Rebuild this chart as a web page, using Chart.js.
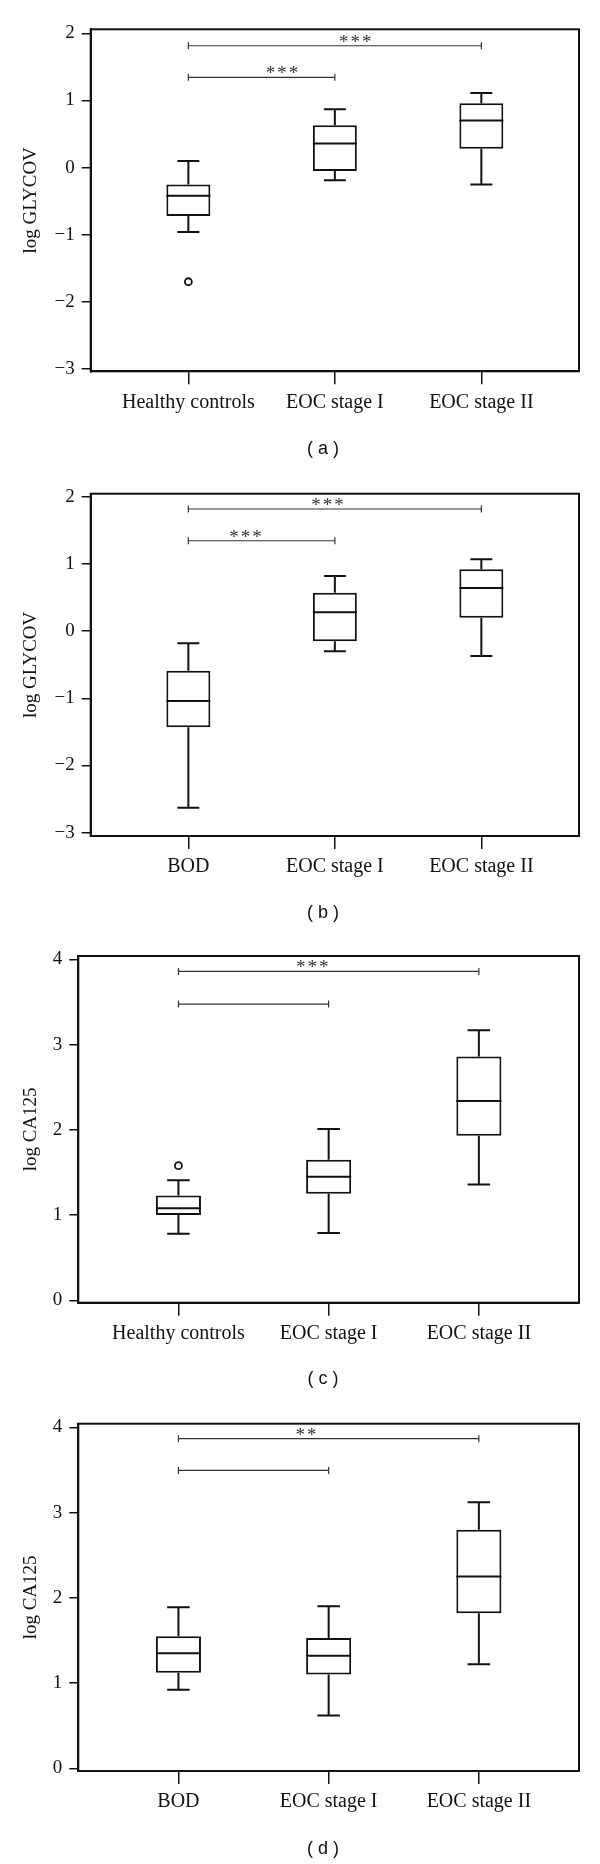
<!DOCTYPE html>
<html lang="en">
<head>
<meta charset="UTF-8">
<title>log GLYCOV / log CA125 box plots</title>
<script src="https://cdn.jsdelivr.net/npm/chart.js@4.4.0/dist/chart.umd.min.js"></script>
<style>
  body { margin: 0; background: #fff; width: 600px; height: 1864px; position: relative; overflow: hidden; }
  .panel { position: absolute; left: 0; width: 600px; }
  .caption { position: absolute; left: 0; width: 646px; text-align: center; line-height: 20px;
             font-family: 'Liberation Sans', Arial, sans-serif; font-size: 18px; color: #111; }
</style>
</head>
<body>

<div class="panel" style="top:0;height:464px"><canvas id="chartA"></canvas></div>
<div class="caption" style="top:438px">( a )</div>
<div class="panel" style="top:464px;height:463px"><canvas id="chartB"></canvas></div>
<div class="caption" style="top:902px">( b )</div>
<div class="panel" style="top:927px;height:468px"><canvas id="chartC"></canvas></div>
<div class="caption" style="top:1368px">( c )</div>
<div class="panel" style="top:1395px;height:469px"><canvas id="chartD"></canvas></div>
<div class="caption" style="top:1838px">( d )</div>

<script>
// groups
const groupsHealthy = ['Healthy controls', 'EOC stage I', 'EOC stage II'];
const groupsBOD = ['BOD', 'EOC stage I', 'EOC stage II'];

// (a) log GLYCOV, healthy controls vs EOC
const lowA = [-0.96, -0.19, -0.25];
const q1A = [-0.72, -0.05, 0.28];
const medA = [-0.42, 0.36, 0.70];
const q3A = [-0.25, 0.63, 0.96];
const highA = [0.10, 0.87, 1.11];
const outA = [[-1.70], [], []];

// (b) log GLYCOV, BOD vs EOC
const lowB = [-2.63, -0.30, -0.37];
const q1B = [-1.43, -0.15, 0.20];
const medB = [-1.04, 0.28, 0.64];
const q3B = [-0.59, 0.57, 0.92];
const highB = [-0.18, 0.82, 1.07];
const outB = [[], [], []];

// (c) log CA125, healthy controls vs EOC
const lowC = [0.78, 0.79, 1.36];
const q1C = [1.00, 1.25, 1.93];
const medC = [1.08, 1.45, 2.34];
const q3C = [1.23, 1.65, 2.86];
const highC = [1.41, 2.01, 3.17];
const outC = [[1.58], [], []];

// (d) log CA125, BOD vs EOC
const lowD = [0.92, 0.62, 1.22];
const q1D = [1.12, 1.10, 1.82];
const medD = [1.35, 1.32, 2.25];
const q3D = [1.55, 1.53, 2.80];
const highD = [1.89, 1.90, 3.12];
const outD = [[], [], []];

// significance brackets: from group, to group, height, stars and where the stars sit
const bracketsA = [{from: 1, to: 3, y: 1.815, stars: '***', starX: 2.14}, {from: 1, to: 2, y: 1.344, stars: '***', starX: 1.64}];
const bracketsB = [{from: 1, to: 3, y: 1.817, stars: '***', starX: 1.95}, {from: 1, to: 2, y: 1.345, stars: '***', starX: 1.39}];
const bracketsC = [{from: 1, to: 3, y: 3.859, stars: '***', starX: 1.89}, {from: 1, to: 2, y: 3.476, stars: '', starX: 1.5}];
const bracketsD = [{from: 1, to: 3, y: 3.867, stars: '**', starX: 1.85}, {from: 1, to: 2, y: 3.495, stars: '', starX: 1.5}];

const SERIF = "'Liberation Serif', 'Times New Roman', serif";
const INK = '#111';
const BOX_HALF = 0.15, CAP_HALF = 0.075;

// outer frame + stars over the brackets
const framePlugin = {
  id: 'frame',
  afterDatasetsDraw(chart, args, opts) {
    const {ctx, chartArea: a, scales} = chart;
    ctx.save();
    ctx.strokeStyle = INK;
    ctx.lineWidth = 2;
    ctx.strokeRect(a.left, a.top, a.right - a.left, a.bottom - a.top);
    ctx.fillStyle = '#333';
    ctx.font = '19px ' + SERIF;
    ctx.letterSpacing = '2px';
    ctx.textAlign = 'center';
    ctx.textBaseline = 'alphabetic';
    opts.brackets.forEach(b => {
      if (!b.stars) return;
      ctx.fillText(b.stars, scales.x.getPixelForValue(b.starX) + 1, scales.y.getPixelForValue(b.y) + 2);
    });
    ctx.restore();
  }
};

function makePanel(id, p) {
  const xs = p.groups.map((g, i) => i + 1);
  const gap = {x: null, y: null};
  const whiskers = [], caps = [], medians = [], outliers = [];
  xs.forEach((x, i) => {
    whiskers.push({x, y: p.q3[i]}, {x, y: p.high[i]}, gap, {x, y: p.q1[i]}, {x, y: p.low[i]}, gap);
    caps.push({x: x - CAP_HALF, y: p.high[i]}, {x: x + CAP_HALF, y: p.high[i]}, gap,
              {x: x - CAP_HALF, y: p.low[i]}, {x: x + CAP_HALF, y: p.low[i]}, gap);
    medians.push({x: x - BOX_HALF, y: p.med[i]}, {x: x + BOX_HALF, y: p.med[i]}, gap);
    p.out[i].forEach(v => outliers.push({x, y: v}));
  });
  const seg = (data, width, color) => ({
    type: 'line', data, borderColor: color, borderWidth: width, pointRadius: 0,
    spanGaps: false, order: 1, borderCapStyle: 'butt'
  });
  const bracketSets = p.brackets.map(b => ({
    type: 'line',
    data: [{x: b.from, y: b.y}, {x: b.to, y: b.y}],
    borderColor: '#333', borderWidth: 1.2,
    pointStyle: 'line', pointRotation: 90, pointRadius: 3.5,
    pointBorderColor: '#333', pointBorderWidth: 1.2, order: 1
  }));

  new Chart(document.getElementById(id), {
    type: 'bar',
    data: {
      datasets: [
        {
          type: 'bar',
          data: xs.map((x, i) => ({x, y: [p.q1[i], p.q3[i]]})),
          backgroundColor: '#fff', borderColor: INK, borderWidth: 2, borderSkipped: false,
          barPercentage: 0.3, categoryPercentage: 1, order: 3
        },
        seg(whiskers, 2, INK),
        seg(caps, 2, INK),
        seg(medians, 2, INK),
        {
          type: 'scatter', data: outliers, pointStyle: 'circle', pointRadius: 3.5,
          pointBackgroundColor: '#fff', pointBorderColor: INK, pointBorderWidth: 1.8, order: 1
        },
        ...bracketSets
      ]
    },
    options: {
      responsive: true,
      maintainAspectRatio: false,
      animation: false,
      events: [],
      layout: { padding: {top: p.top, right: 600 - p.right, left: 0, bottom: 0} },
      plugins: {
        legend: { display: false },
        tooltip: { enabled: false },
        frame: { brackets: p.brackets }
      },
      scales: {
        x: {
          type: 'linear',
          offset: false,
          min: 1 / 3, max: xs.length + 2 / 3,
          afterBuildTicks: s => { s.ticks = xs.map(v => ({value: v})); },
          ticks: {
            callback: v => p.groups[v - 1],
            font: {family: SERIF, size: 20}, color: INK, padding: 6,
            maxRotation: 0, autoSkip: false
          },
          grid: { offset: false, drawOnChartArea: false, tickLength: 13, color: INK, lineWidth: 1.5 },
          border: { display: true, color: INK, width: 2 },
          afterFit: s => { s.height = p.height - p.bottom; }
        },
        y: {
          min: p.yMin, max: p.yMax,
          ticks: {
            stepSize: 1, includeBounds: false,
            callback: v => String(v).replace('-', '\u2212'),
            font: {family: SERIF, size: 19}, color: INK, padding: 7
          },
          grid: { drawOnChartArea: false, tickLength: 9, color: INK, lineWidth: 1.5 },
          border: { display: true, color: INK, width: 2 },
          title: { display: true, text: p.yTitle, font: {family: SERIF, size: 19}, color: INK, padding: {top: 20, bottom: 0} },
          afterFit: s => { s.width = p.left; }
        }
      }
    },
    plugins: [framePlugin]
  });
}

makePanel('chartA', {groups: groupsHealthy, low: lowA, q1: q1A, med: medA, q3: q3A, high: highA, out: outA,
  brackets: bracketsA, yTitle: 'log GLYCOV', yMin: -3.034, yMax: 2.06,
  height: 464, top: 29.3, bottom: 371.3, left: 90.7, right: 579});
makePanel('chartB', {groups: groupsBOD, low: lowB, q1: q1B, med: medB, q3: q3B, high: highB, out: outB,
  brackets: bracketsB, yTitle: 'log GLYCOV', yMin: -3.05, yMax: 2.045,
  height: 463, top: 29.7, bottom: 372, left: 90.7, right: 579});
makePanel('chartC', {groups: groupsHealthy, low: lowC, q1: q1C, med: medC, q3: q3C, high: highC, out: outC,
  brackets: bracketsC, yTitle: 'log CA125', yMin: -0.028, yMax: 4.04,
  height: 468, top: 29, bottom: 375.7, left: 78.3, right: 579});
makePanel('chartD', {groups: groupsBOD, low: lowD, q1: q1D, med: medD, q3: q3D, high: highD, out: outD,
  brackets: bracketsD, yTitle: 'log CA125', yMin: -0.032, yMax: 4.043,
  height: 469, top: 28.7, bottom: 376, left: 78.3, right: 579});
</script>
</body>
</html>
